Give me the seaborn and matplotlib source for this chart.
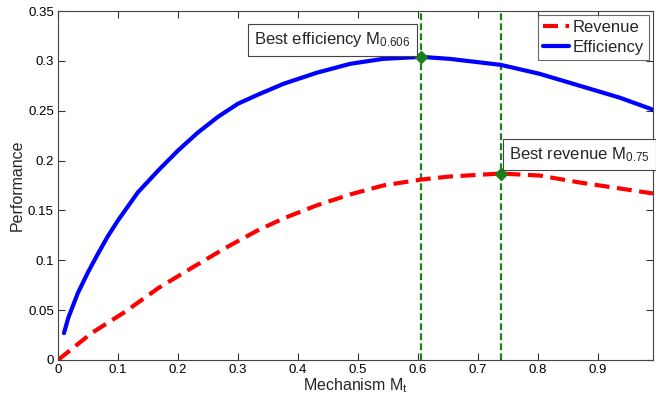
import matplotlib
matplotlib.use("Agg")
import matplotlib.pyplot as plt
import seaborn as sns
import pandas as pd

# Data
eff_x = [0.01, 0.017, 0.033, 0.05, 0.067, 0.083, 0.1, 0.133, 0.167, 0.2, 0.233, 0.267, 0.3, 0.333,
         0.376, 0.431, 0.487, 0.542, 0.606, 0.653, 0.738, 0.803, 0.87, 0.937, 0.992]
eff_y = [0.027, 0.042, 0.067, 0.088, 0.107, 0.124, 0.140, 0.168, 0.190, 0.210, 0.228, 0.244, 0.257, 0.266,
         0.277, 0.288, 0.297, 0.302, 0.304, 0.302, 0.296, 0.287, 0.275, 0.263, 0.251]
rev_x = [0.0, 0.056, 0.111, 0.167, 0.222, 0.278, 0.333, 0.376, 0.431, 0.487, 0.542,
         0.606, 0.653, 0.738, 0.803, 0.87, 0.937, 0.992]
rev_y = [0.0, 0.027, 0.048, 0.072, 0.092, 0.112, 0.130, 0.142, 0.155, 0.166, 0.175,
         0.181, 0.184, 0.187, 0.185, 0.178, 0.172, 0.167]
best_eff = (0.606, 0.304)
best_rev = (0.738, 0.187)
best_eff_label = "Best efficiency M$_{\\mathregular{0.606}}$"
best_rev_label = "Best revenue M$_{\\mathregular{0.75}}$"
x_ticks = [0, 0.1, 0.2, 0.3, 0.4, 0.5, 0.6, 0.7, 0.8, 0.9]
y_ticks = [0, 0.05, 0.1, 0.15, 0.2, 0.25, 0.3, 0.35]
y_tick_labels = ["0", "0.05", "0.1", "0.15", "0.2", "0.25", "0.3", "0.35"]
x_tick_labels = ["0", "0.1", "0.2", "0.3", "0.4", "0.5", "0.6", "0.7", "0.8", "0.9"]

sns.set_theme(style="white")
plt.rcParams['font.family'] = ['Liberation Sans', 'DejaVu Sans']
plt.rcParams['mathtext.fontset'] = 'custom'
plt.rcParams['mathtext.rm'] = 'Liberation Sans'
plt.rcParams['mathtext.it'] = 'Liberation Sans'

fig = plt.figure(figsize=(6.56, 3.96), dpi=100)
ax = fig.add_axes([58 / 656, 36 / 396, (653 - 58) / 656, (360 - 11) / 396])

rev_df = pd.DataFrame({"x": rev_x, "y": rev_y})
eff_df = pd.DataFrame({"x": eff_x, "y": eff_y})

sns.lineplot(data=rev_df, x="x", y="y", ax=ax, color="#ff0000", linewidth=3.0,
             label="Revenue", sort=False)
ax.lines[-1].set_dashes((3.6, 1.8))
sns.lineplot(data=eff_df, x="x", y="y", ax=ax, color="#0000ff", linewidth=3.0,
             label="Efficiency", sort=False)

green = "#1b7f1b"
ax.axvline(best_eff[0], color=green, linestyle=(0, (3, 1.5)), linewidth=1.6, zorder=1)
ax.axvline(best_rev[0], color=green, linestyle=(0, (3, 1.5)), linewidth=1.6, zorder=1)
ax.plot([best_eff[0]], [best_eff[1]], marker="D", color=green, markersize=6.5,
        linestyle="none", zorder=5)
ax.plot([best_rev[0]], [best_rev[1]], marker="D", color=green, markersize=6.5,
        linestyle="none", zorder=5)

box = dict(facecolor="white", edgecolor="#444444", linewidth=0.8, pad=4.5)
ax.text(0.327, 0.321, best_eff_label, fontsize=12, ha="left", va="center",
        bbox=box, zorder=6)
ax.text(0.752, 0.206, best_rev_label, fontsize=12, ha="left", va="center",
        bbox=box, zorder=6)

ax.set_xlim(0, 0.992)
ax.set_ylim(0, 0.35)
ax.set_xticks(x_ticks)
ax.set_xticklabels(x_tick_labels)
ax.set_yticks(y_ticks)
ax.set_yticklabels(y_tick_labels)
ax.tick_params(direction="in", length=5, width=0.8, colors="#333333",
               labelsize=9.5, top=True, right=True, bottom=True, left=True,
               labelcolor="black", pad=3)
for s in ax.spines.values():
    s.set_color("#444444")
    s.set_linewidth(0.8)
    s.set_visible(True)

ax.set_xlabel("Mechanism M$_{\\mathregular{t}}$", fontsize=11.5, labelpad=0)
ax.set_ylabel("Performance", fontsize=11.5, labelpad=2)

leg = ax.legend(loc="upper right", fontsize=12, frameon=True, fancybox=False,
                edgecolor="#444444", handlelength=1.6, handletextpad=0.2,
                borderpad=0.3, labelspacing=0.3, borderaxespad=0.25)
leg.get_frame().set_linewidth(0.8)
leg.get_lines()[0].set_dashes((3.6, 1.8))

fig.savefig("out.png", dpi=100)
